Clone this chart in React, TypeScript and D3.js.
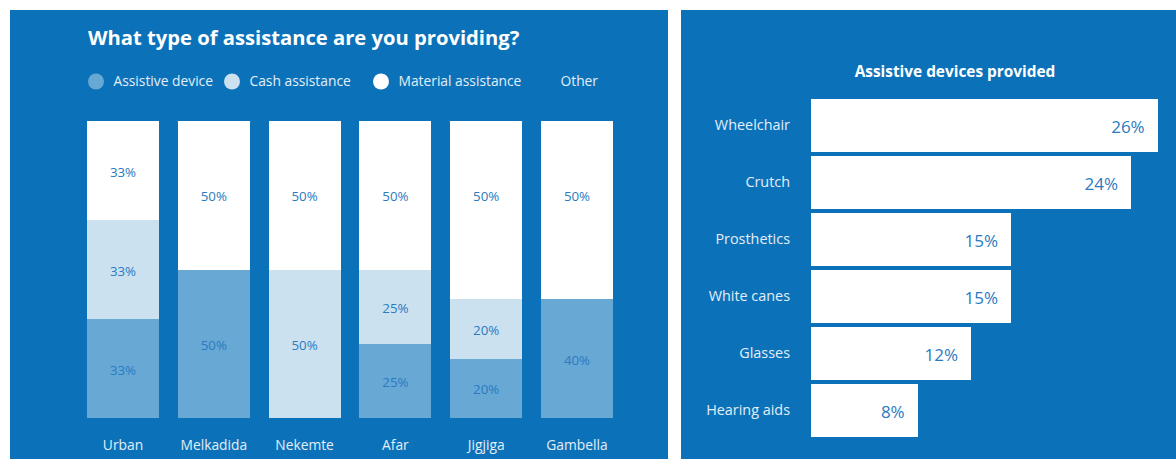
import React from "react";
import * as d3 from "d3";

const regions = ["Urban", "Melkadida", "Nekemte", "Afar", "Jigjiga", "Gambella"];
const assistiveDevice = [33, 50, 0, 25, 20, 40];
const cashAssistance = [33, 0, 50, 25, 20, 0];
const otherAssistance = [0, 0, 0, 0, 10, 10];
const materialAssistance = [33, 50, 50, 50, 50, 50];
const legendLabels = ["Assistive device", "Cash assistance", "Material assistance", "Other"];

const devices = ["Wheelchair", "Crutch", "Prosthetics", "White canes", "Glasses", "Hearing aids"];
const deviceShares = [26, 24, 15, 15, 12, 8];

const W = 1176;
const H = 459;
const PANEL = "#0b72ba";
const FONT = "'Open Sans', Lato, sans-serif";
const LABEL_BLUE = "#2a7bc0";
const TEXT_LIGHT = "#e4eef7";

const keys = ["assistive", "cash", "other", "material"];
const colors: Record<string, string> = {
  assistive: "#68a8d5",
  cash: "#cce1f0",
  other: "#ffffff",
  material: "#ffffff",
};

export default function App() {
  const rows = regions.map((r, i) => ({
    region: r,
    assistive: assistiveDevice[i],
    cash: cashAssistance[i],
    other: otherAssistance[i],
    material: materialAssistance[i],
  }));
  const series = d3.stack<any>().keys(keys).offset(d3.stackOffsetExpand)(rows);

  const x = d3.scaleBand<string>().domain(regions).range([87, 613]).paddingInner(0.207).paddingOuter(0);
  const y = d3.scaleLinear().domain([0, 1]).range([418, 121]);

  const legendX = [96, 232, 381, 543];
  const legendColors = [colors.assistive, colors.cash, colors.material, PANEL];

  const yb = d3.scaleBand<string>().domain(devices).range([99, 436.7]).paddingInner(0.075).paddingOuter(0);
  const xb = d3.scaleLinear().domain([0, 25.8]).range([811, 1155]);

  return (
    <svg width={W} height={H} style={{ position: "absolute", left: 0, top: 0, display: "block" }} fontFamily={FONT}>
      <rect x={0} y={0} width={W} height={H} fill="#ffffff" />
      {/* Left panel */}
      <rect x={10} y={10} width={658} height={H - 10} fill={PANEL} />
      <text x={88} y={45} fill="#ffffff" fontSize={20.2} fontWeight={700}>
        What type of assistance are you providing?
      </text>
      {legendLabels.map((l, i) => (
        <g key={l}>
          <circle cx={legendX[i]} cy={81.5} r={8} fill={legendColors[i]} />
          <text x={legendX[i] + 17.5} y={81.5} dy="0.35em" fill={TEXT_LIGHT} fontSize={13.8}>
            {l}
          </text>
        </g>
      ))}
      <g shapeRendering="crispEdges">
        {series.map((s) =>
          s.map((d, i) => {
            const h = y(d[0]) - y(d[1]);
            if (h <= 0) return null;
            return (
              <rect
                key={s.key + i}
                x={x(regions[i])}
                y={y(d[1])}
                width={x.bandwidth()}
                height={h}
                fill={colors[s.key]}
              />
            );
          })
        )}
      </g>
      {series.map((s) =>
        s.map((d, i) => {
          const v = (d.data as any)[s.key];
          if (!v || s.key === "other") return null;
          return (
            <text
              key={"t" + s.key + i}
              x={(x(regions[i]) as number) + x.bandwidth() / 2}
              y={(y(d[0]) + y(d[1])) / 2 + 1.5}
              dy="0.35em"
              textAnchor="middle"
              fill={LABEL_BLUE}
              fontSize={13.3}
            >
              {v + "%"}
            </text>
          );
        })
      )}
      {regions.map((r) => (
        <text
          key={"c" + r}
          x={(x(r) as number) + x.bandwidth() / 2}
          y={445}
          dy="0.35em"
          textAnchor="middle"
          fill={TEXT_LIGHT}
          fontSize={13.8}
        >
          {r}
        </text>
      ))}

      {/* Right panel */}
      <rect x={681} y={10} width={W - 681} height={H - 10} fill={PANEL} />
      <text x={955} y={72} dy="0.35em" textAnchor="middle" fill="#ffffff" fontSize={15.4} fontWeight={700}>
        Assistive devices provided
      </text>
      {devices.map((dv, i) => (
        <g key={dv}>
          <rect x={xb(0)} y={yb(dv)} width={xb(deviceShares[i]) - xb(0)} height={yb.bandwidth()} fill="#ffffff" shapeRendering="crispEdges" />
          <text
            x={790}
            y={(yb(dv) as number) + yb.bandwidth() / 2}
            dy="0.35em"
            textAnchor="end"
            fill={TEXT_LIGHT}
            fontSize={14.4}
          >
            {dv}
          </text>
          <text
            x={xb(deviceShares[i]) - 13}
            y={(yb(dv) as number) + yb.bandwidth() / 2 + 2}
            dy="0.35em"
            textAnchor="end"
            fill={LABEL_BLUE}
            fontSize={17}
          >
            {deviceShares[i] + "%"}
          </text>
        </g>
      ))}
    </svg>
  );
}
